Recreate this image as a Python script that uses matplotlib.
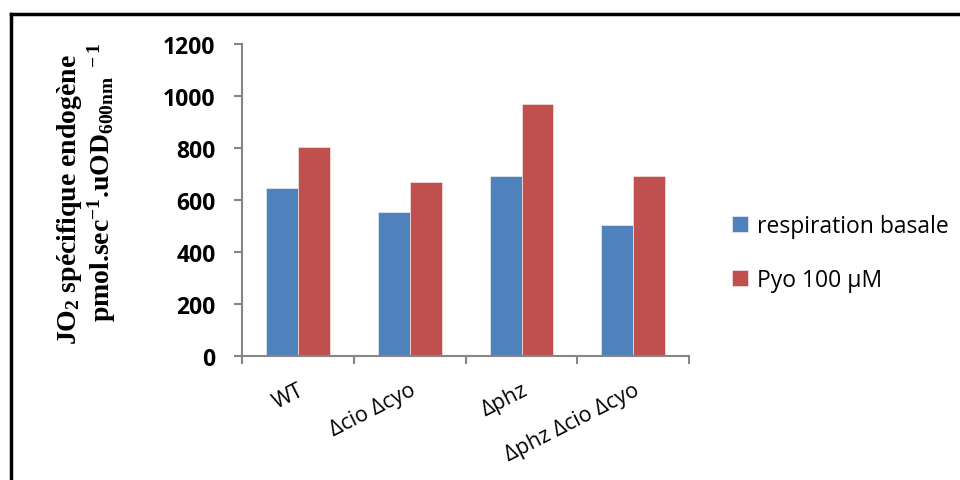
import matplotlib
matplotlib.use("Agg")
import matplotlib.pyplot as plt
from matplotlib.lines import Line2D
import numpy as np

strains = ["WT", "Δcio Δcyo", "Δphz", "Δphz Δcio Δcyo"]
basale = [644, 552, 691, 503]
pyo = [801, 667, 967, 690]
series_names = ["respiration basale", "Pyo 100 µM"]
yticks = [0, 200, 400, 600, 800, 1000, 1200]

plt.rcParams['mathtext.fontset'] = 'custom'
plt.rcParams['mathtext.rm'] = 'Liberation Serif:bold'
plt.rcParams['mathtext.it'] = 'Liberation Serif:bold'
plt.rcParams['mathtext.bf'] = 'Liberation Serif:bold'

fig = plt.figure(figsize=(9.6, 4.81), dpi=100)
ax = fig.add_axes([0.252, 0.2584, 0.466, 0.6486])

x = np.arange(len(strains))
w = 0.285
grey = "#868686"
ax.bar(x - w/2, basale, w, color="#4F81BD", edgecolor="#dde6f0", linewidth=0.6, label=series_names[0])
ax.bar(x + w/2, pyo, w, color="#C0504D", edgecolor="#f0dada", linewidth=0.6, label=series_names[1])

ax.set_xlim(-0.5, len(strains) - 0.5)
ax.set_ylim(0, 1200)
ax.set_yticks(yticks)
ax.set_yticklabels([str(v) for v in yticks], fontfamily="Open Sans", fontweight="bold", fontsize=16.5)
ax.set_xticks(x)
ax.set_xticklabels(strains, fontfamily="Open Sans", fontsize=15.5, rotation=27,
                   ha="right", rotation_mode="anchor")
ax.set_xticks(np.arange(len(strains) + 1) - 0.5, minor=True)
ax.tick_params(axis="x", which="major", length=0, pad=17)
ax.tick_params(axis="x", which="minor", length=6, width=1.5, color=grey, direction="out")
ax.tick_params(axis="y", length=6, width=1.5, color=grey, direction="out", pad=13)

for s in ["top", "right"]:
    ax.spines[s].set_visible(False)
for s in ["left", "bottom"]:
    ax.spines[s].set_color(grey)
    ax.spines[s].set_linewidth(1.5)

# two-line y label, Times-like bold
fig.text(0.072, 0.585, "JO$_2$ spécifique endogène", rotation=90, ha="center", va="center",
         fontfamily="Liberation Serif", fontweight="bold", fontsize=20)
fig.text(0.106, 0.62, "pmol.sec$^{-1}$.uOD$_{600nm}$$^{\\ -1}$", rotation=90, ha="center", va="center",
         fontfamily="Liberation Serif", fontweight="bold", fontsize=20)

leg = fig.legend(loc="center left", bbox_to_anchor=(0.741, 0.472), frameon=False,
                 prop={"family": "Open Sans", "size": 16.5}, handlelength=0.7, handleheight=0.7,
                 handletextpad=0.4, labelspacing=1.3)

# outer frame (top and left only)
fig.add_artist(Line2D([0.0115, 0.0115], [0, 0.969], color="black", linewidth=2.5, transform=fig.transFigure))
fig.add_artist(Line2D([0.0115, 1.0], [0.969, 0.969], color="black", linewidth=2.5, transform=fig.transFigure))

fig.savefig("out.png", dpi=100)
